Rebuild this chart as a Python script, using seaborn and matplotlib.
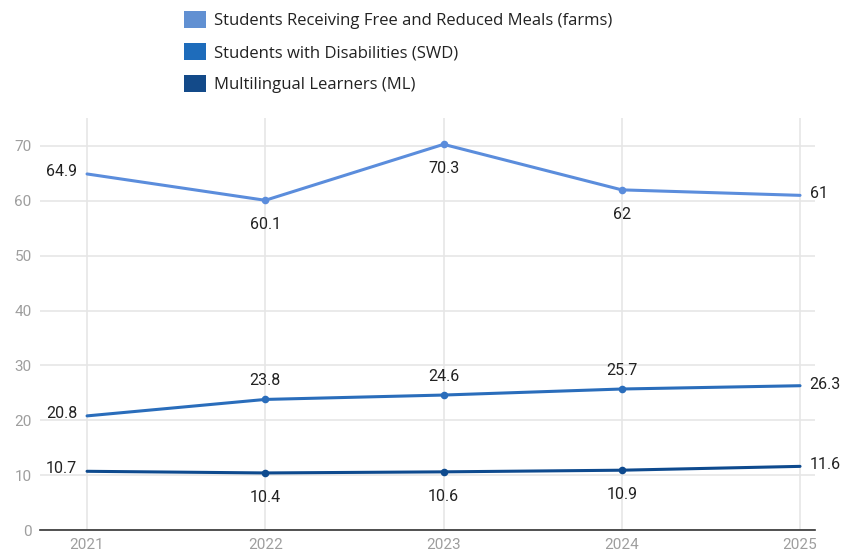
import matplotlib
matplotlib.use("Agg")
import matplotlib.pyplot as plt
from matplotlib.patches import Patch
import seaborn as sns
import pandas as pd

years = [2021, 2022, 2023, 2024, 2025]
farms = [64.9, 60.1, 70.3, 62, 61]
swd = [20.8, 23.8, 24.6, 25.7, 26.3]
ml = [10.7, 10.4, 10.6, 10.9, 11.6]
series_names = ["Students Receiving Free and Reduced Meals (farms)",
                "Students with Disabilities (SWD)",
                "Multilingual Learners (ML)"]
colors = ["#5b8ddc", "#2a6dbb", "#0e4a8e"]
legend_colors = ["#6190d2", "#1e6cbb", "#134a89"]

sns.set_theme(style="white")
plt.rcParams['font.family'] = ['Roboto', 'DejaVu Sans']

df = pd.DataFrame({
    "year": years * 3,
    "value": farms + swd + ml,
    "series": [series_names[0]] * 5 + [series_names[1]] * 5 + [series_names[2]] * 5,
})

fig = plt.figure(figsize=(8.41, 5.59), dpi=100)
ax = fig.add_axes([40 / 841, 29 / 559, 775 / 841, 412 / 559])

sns.lineplot(data=df, x="year", y="value", hue="series", palette=colors,
             linewidth=2.2, ax=ax, legend=False, zorder=3)
for vals, c in zip([farms, swd, ml], colors):
    ax.scatter(years[1:4], vals[1:4], s=30, color=c, zorder=4, linewidths=0)

ax.set_xlim(2020.736, 2025.084)
ax.set_ylim(0, 75.1)
ax.set_yticks([0, 10, 20, 30, 40, 50, 60, 70])
ax.set_xticks(years)
ax.set_xticklabels([str(y) for y in years])
ax.grid(True, color="#e6e6e6", linewidth=1.2, zorder=0)
for s in ["top", "right", "left"]:
    ax.spines[s].set_visible(False)
ax.spines["bottom"].set_color("#333333")
ax.spines["bottom"].set_linewidth(1.2)
ax.tick_params(axis="both", length=0, colors="#9e9e9e", labelsize=11)
ax.tick_params(axis="y", pad=6)
ax.tick_params(axis="x", pad=6)
ax.set_xlabel("")
ax.set_ylabel("")

# positions: 'l' left, 'b' below, 'a' above, 'r' right
pos = [["l", "b", "b", "b", "r"],
       ["l", "a", "a", "a", "r"],
       ["l", "b", "b", "b", "r"]]
for vals, p in zip([farms, swd, ml], pos):
    for x, v, pp in zip(years, vals, p):
        lab = f"{v:g}"
        if pp == "l":
            ax.annotate(lab, (x, v), xytext=(-7, 2), textcoords="offset points",
                        ha="right", va="center", fontsize=11.5, color="#222222")
        elif pp == "r":
            ax.annotate(lab, (x, v), xytext=(7, 1), textcoords="offset points",
                        ha="left", va="center", fontsize=11.5, color="#222222")
        elif pp == "b":
            ax.annotate(lab, (x, v), xytext=(0, -12), textcoords="offset points",
                        ha="center", va="top", fontsize=11.5, color="#222222")
        else:
            ax.annotate(lab, (x, v), xytext=(0, 8), textcoords="offset points",
                        ha="center", va="bottom", fontsize=11.5, color="#222222")

handles = [Patch(facecolor=c, edgecolor="none") for c in legend_colors]
leg = fig.legend(handles, series_names, loc="upper left", bbox_to_anchor=(169 / 841, 1.008),
                 frameon=False, handlelength=1.3, handleheight=1.2,
                 handletextpad=0.52, labelspacing=0.85, labelcolor="#222222",
                 prop={"family": ["Open Sans", "DejaVu Sans"], "size": 12})

fig.savefig("out.png", dpi=100)
